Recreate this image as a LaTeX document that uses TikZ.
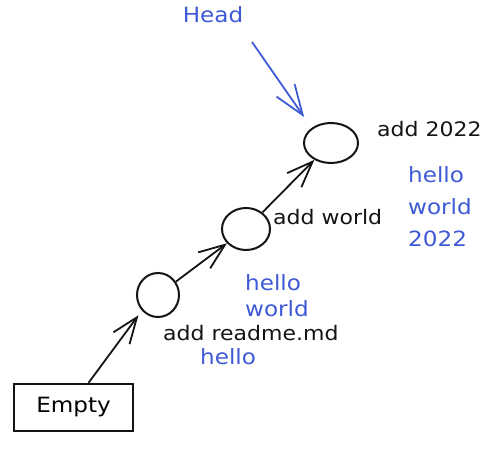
\documentclass[tikz,border=0pt]{standalone}
\usepackage{fontspec}
\setmainfont[FakeStretch=1.1]{DejaVu Sans}
\usetikzlibrary{shapes.geometric,arrows.meta}
\definecolor{inkblue}{RGB}{62,90,214}
\definecolor{ink}{RGB}{20,20,20}
\tikzset{
  commit/.style={draw=ink, line width=2pt, ellipse, inner sep=0pt},
  emptybox/.style={draw=ink, line width=2.2pt, rectangle, inner sep=0pt, minimum width=119pt, minimum height=47pt, font=\fontsize{21}{24}\selectfont},
  msg/.style={anchor=west, inner sep=0pt, text=ink, font=\fontsize{20}{24}\selectfont},
  content/.style={anchor=west, inner sep=0pt, align=left, text=inkblue},
  link/.style={draw=ink, line width=1.8pt, -{Straight Barb[length=26pt,width=20pt,line width=1.8pt]}},
  headlink/.style={draw=inkblue, line width=1.8pt, -{Straight Barb[length=30pt,width=22pt,line width=1.8pt]}},
}
\begin{document}
\begin{tikzpicture}[x=1pt,y=-1pt]
\useasboundingbox (0,0) rectangle (497,454);
\node[emptybox] (empty) at (73.5,407.5) {Empty};
\node[commit, minimum width=42pt, minimum height=44pt] (c1) at (158,295) {};
\node[commit, minimum width=48pt, minimum height=42pt] (c2) at (246,229) {};
\node[commit, minimum width=54pt, minimum height=40pt] (c3) at (331,143) {};
\node[anchor=center, inner sep=0pt, text=inkblue, font=\fontsize{21}{24}\selectfont] (head) at (213,15) {Head};
\node[msg] (m3) at (377,129) {add 2022};
\node[msg] (m2) at (273,217) {add world};
\node[msg] (m1) at (163,333) {add readme.md};
\node[content, font=\fontsize{21}{24}\selectfont] (t1) at (200,357) {hello};
\node[content, font=\fontsize{21}{26}\selectfont] (t2) at (245,296) {hello\\world};
\node[content, font=\fontsize{21}{32}\selectfont] (t3) at (408,207) {hello\\world\\2022};
\coordinate (headstart) at (252,42);
\draw[link] ([xshift=15]empty.north) -- ([shift={(-4,4)}]c1.south west);
\draw[link] (c1) -- (c2);
\draw[link] (c2) -- (c3);
\draw[headlink] (headstart) -- ([shift={(-7,-11)}]c3.north west);
\end{tikzpicture}
\end{document}
